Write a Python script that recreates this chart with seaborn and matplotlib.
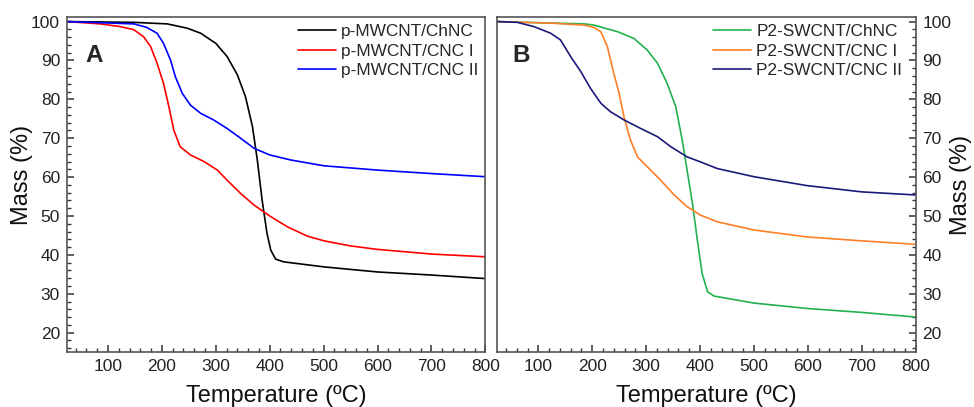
import numpy as np
import pandas as pd
import seaborn as sns
import matplotlib.pyplot as plt
from matplotlib.ticker import MultipleLocator

# ---- panel A (p-MWCNT) ----
a_chnc_T = [24, 148, 210, 247, 272, 300, 321, 340, 355, 368, 377, 386, 395, 402, 411, 426, 501, 600, 701, 800]
a_chnc_m = [100, 99.8, 99.4, 98.3, 97, 94.4, 91, 86.3, 80.7, 73, 64.4, 54, 45.5, 41.2, 38.9, 38.2, 36.9, 35.6, 34.8, 33.9]

a_cnc1_T = [24, 86, 123, 148, 166, 179, 191, 203, 213, 222, 234, 253, 278, 303, 321, 346, 371, 400, 433, 470, 501, 550, 600, 701, 800]
a_cnc1_m = [100, 99.4, 98.7, 97.9, 96.1, 93.6, 89.3, 84.1, 78.1, 72.1, 67.8, 65.7, 64, 61.8, 59.2, 55.8, 52.8, 50, 47.2, 44.8, 43.6, 42.3, 41.4, 40.2, 39.5]

a_cnc2_T = [24, 86, 148, 172, 191, 203, 216, 225, 238, 253, 272, 296, 321, 346, 371, 400, 439, 501, 600, 701, 800]
a_cnc2_m = [100, 99.7, 99.4, 98.5, 97, 94.4, 90.1, 85.8, 81.5, 78.5, 76.4, 74.7, 72.5, 70, 67.4, 65.7, 64.4, 62.9, 61.8, 60.9, 60.1]

# ---- panel B (P2-SWCNT) ----
b_chnc_T = [24, 185, 203, 247, 277, 302, 321, 339, 355, 367, 376, 386, 395, 404, 414, 426, 500, 599, 700, 800]
b_chnc_m = [100, 99.4, 99.1, 97.4, 95.7, 92.7, 89.3, 84.1, 78.1, 69.5, 61.8, 53.2, 43.8, 35.2, 30.5, 29.4, 27.6, 26.2, 25.2, 24]

b_cnc1_T = [24, 123, 185, 203, 216, 228, 240, 250, 259, 271, 284, 302, 327, 352, 376, 401, 432, 500, 599, 700, 800]
b_cnc1_m = [100, 99.6, 99.1, 98.5, 97.4, 93.6, 86.7, 81.5, 75.5, 69.5, 65.2, 62.7, 59.2, 55.4, 52.4, 50.2, 48.5, 46.4, 44.6, 43.6, 42.7]

b_cnc2_T = [24, 61, 92, 123, 141, 160, 179, 197, 216, 234, 259, 290, 321, 346, 376, 401, 432, 500, 599, 700, 800]
b_cnc2_m = [100, 99.8, 98.7, 97, 95.3, 91, 87.1, 82.8, 79, 76.8, 74.7, 72.5, 70.4, 67.8, 65.2, 63.9, 62.2, 60.1, 57.8, 56.2, 55.4]

a_labels = ["p-MWCNT/ChNC", "p-MWCNT/CNC I", "p-MWCNT/CNC II"]
b_labels = ["P2-SWCNT/ChNC", "P2-SWCNT/CNC I", "P2-SWCNT/CNC II"]
a_colors = ["#000000", "#ff0000", "#0000ff"]
b_colors = ["#22b14c", "#ff7f27", "#1a1a7a"]


def long_df(pairs, labels):
    frames = []
    for (T, m), lab in zip(pairs, labels):
        frames.append(pd.DataFrame({"T": T, "m": m, "sample": lab}))
    return pd.concat(frames, ignore_index=True)


df_a = long_df([(a_chnc_T, a_chnc_m), (a_cnc1_T, a_cnc1_m), (a_cnc2_T, a_cnc2_m)], a_labels)
df_b = long_df([(b_chnc_T, b_chnc_m), (b_cnc1_T, b_cnc1_m), (b_cnc2_T, b_cnc2_m)], b_labels)

sns.set_style("ticks")
plt.rcParams["font.family"] = ["Liberation Sans", "DejaVu Sans"]

fig = plt.figure(figsize=(9.74, 4.07), dpi=100)
ax1 = fig.add_axes([0.0688, 0.135, 0.4295, 0.8225])
ax2 = fig.add_axes([0.5106, 0.135, 0.4295, 0.8225])

for ax, df, labels, colors, letter, lx, legx in [(ax1, df_a, a_labels, a_colors, "A", 0.043, 1.0),
                                                 (ax2, df_b, b_labels, b_colors, "B", 0.036, 0.984)]:
    sns.lineplot(data=df, x="T", y="m", hue="sample", hue_order=labels,
                 palette=colors, linewidth=1.2, sort=False, ax=ax)
    ax.set_xlim(24, 800)
    ax.set_ylim(15, 101.1)
    ax.xaxis.set_major_locator(MultipleLocator(100))
    ax.xaxis.set_minor_locator(MultipleLocator(20))
    ax.yaxis.set_major_locator(MultipleLocator(10))
    ax.yaxis.set_minor_locator(MultipleLocator(2))
    ax.tick_params(which="major", direction="in", length=5, width=1.1, labelsize=12.5, colors="#333333",
                   labelcolor="#222222", pad=5)
    ax.tick_params(which="minor", direction="in", length=3, width=1.0, colors="#333333")
    for s in ax.spines.values():
        s.set_visible(True)
        s.set_linewidth(1.2)
        s.set_color("#555555")
    ax.set_xlabel("Temperature (ºC)", fontsize=17, color="#111111", labelpad=8)
    ax.set_ylabel("Mass (%)", fontsize=17, color="#111111")
    ax.text(lx, 0.885, letter, transform=ax.transAxes, fontsize=17.5, fontweight="bold",
            va="center", ha="left")
    ax.legend(loc="upper right", bbox_to_anchor=(legx, 1.0), frameon=False, fontsize=12.4,
              handlelength=2.2, borderaxespad=0.0, labelspacing=0.26, handletextpad=0.3)

ax1.yaxis.set_ticks_position("left")
ax1.xaxis.set_ticks_position("bottom")
ax1.yaxis.set_label_coords(-0.081, 0.53)
ax2.yaxis.set_ticks_position("right")
ax2.yaxis.set_label_position("right")
ax2.xaxis.set_ticks_position("bottom")
ax2.set_ylabel("Mass (%)", fontsize=17, color="#111111", rotation=90)
ax2.yaxis.set_label_coords(1.081, 0.5)

fig.savefig("out.png", dpi=100)
